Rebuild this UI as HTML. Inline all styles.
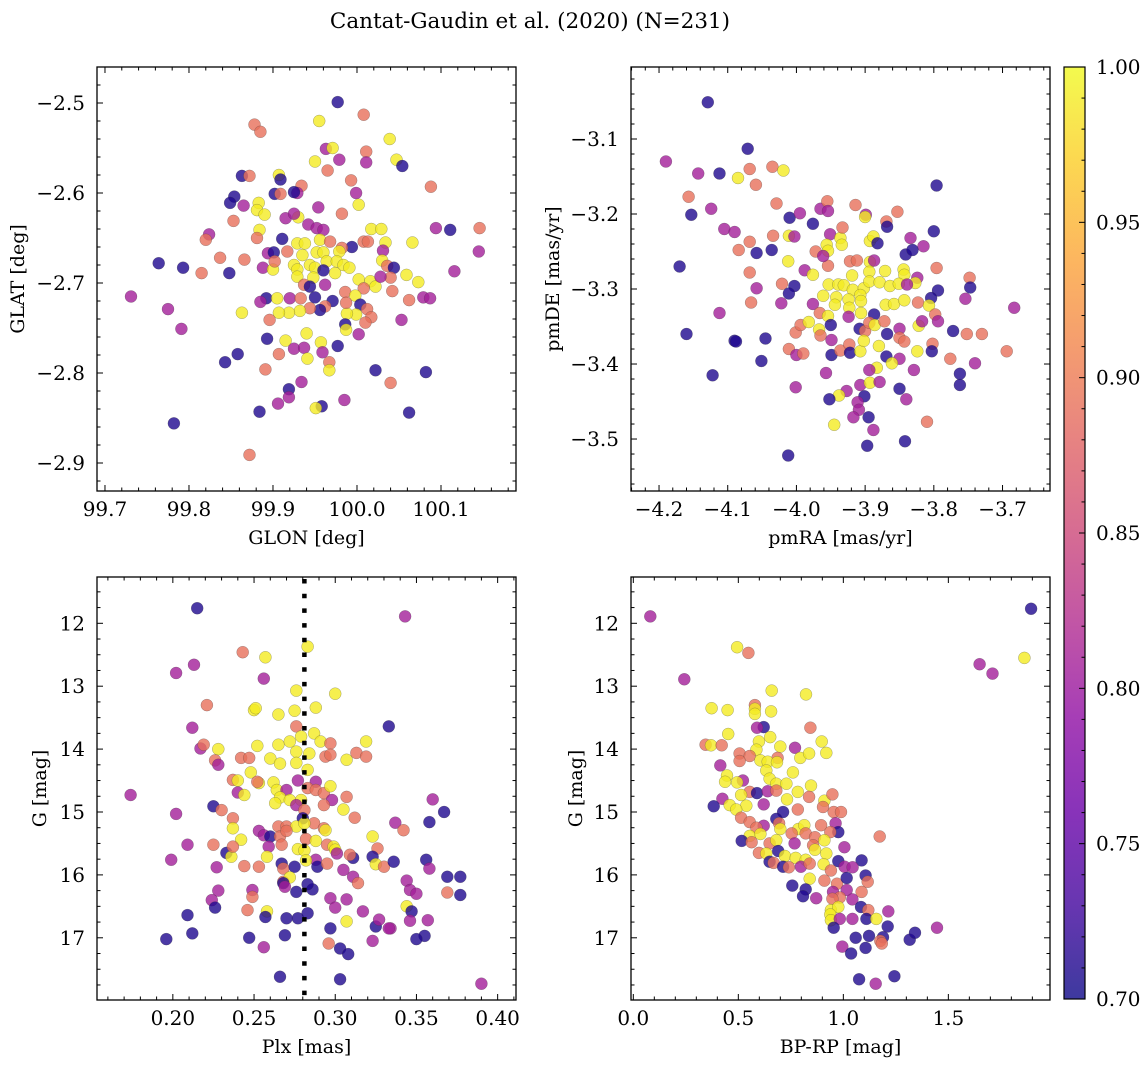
<!DOCTYPE html>
<html><head><meta charset="utf-8">
<style>
html,body{margin:0;padding:0;background:#fff;}
svg{display:block;font-family:"DejaVu Serif","Liberation Serif",serif;}
</style></head>
<body>
<svg id="fig" width="1148" height="1067" viewBox="0 0 1148 1067" xmlns="http://www.w3.org/2000/svg">
<defs>
<linearGradient id="plasma" x1="0" y1="1" x2="0" y2="0">
<stop offset="0" stop-color="#0d0887"/><stop offset="0.1" stop-color="#41049d"/><stop offset="0.2" stop-color="#6a00a8"/><stop offset="0.3" stop-color="#8f0da4"/><stop offset="0.4" stop-color="#b12a90"/><stop offset="0.5" stop-color="#cc4778"/><stop offset="0.6" stop-color="#e16462"/><stop offset="0.7" stop-color="#f2844b"/><stop offset="0.8" stop-color="#fca636"/><stop offset="0.9" stop-color="#fcce25"/><stop offset="1" stop-color="#f0f921"/>
</linearGradient>
</defs>
<text x="530" y="28" font-size="21.5" text-anchor="middle">Cantat-Gaudin et al. (2020) (N=231)</text>
</svg>
<script>
// ---------- DATA ----------
const p1_glon=[99.977,100.008,99.955,99.878,99.885,100.039,99.963,99.971,100.011,100.011,99.979,99.950,100.047,100.054,99.965,100.088,99.863,99.872,99.907,99.909,99.934,99.929,99.925,99.902,99.909,99.993,99.999,100.002,99.854,99.849,99.865,99.883,99.881,99.890,99.954,99.982,99.930,99.915,99.925,99.853,99.884,99.881,99.824,99.820,100.094,100.111,100.146,100.017,100.029,100.034,100.066,100.145,99.911,99.942,99.952,99.960,99.929,99.938,99.956,99.968,99.994,99.982,100.008,100.013,100.031,99.979,99.952,99.960,99.935,99.917,99.894,99.901,99.764,99.793,99.837,99.866,99.815,99.848,99.888,99.900,99.902,99.925,99.929,99.929,99.944,99.950,99.964,99.976,99.984,99.991,100.030,100.036,100.044,100.040,100.059,100.073,100.116,99.974,99.960,99.948,99.937,99.944,99.962,100.002,100.016,100.022,100.028,100.008,100.042,99.731,99.775,99.791,99.863,99.892,99.885,99.905,99.920,99.933,99.950,99.971,99.986,99.998,100.004,100.012,100.017,100.010,99.999,99.988,99.987,99.962,99.956,99.944,99.932,99.919,99.907,99.896,100.062,100.079,100.087,100.053,99.986,99.987,100.002,99.940,99.915,99.893,99.957,99.977,99.925,99.937,99.941,99.959,99.907,99.858,99.843,99.891,99.967,99.967,100.022,100.082,100.040,99.934,99.919,99.919,99.906,99.985,99.958,99.951,99.884,100.062,99.782,99.872];
const p1_glat=[-2.499,-2.513,-2.520,-2.524,-2.532,-2.540,-2.551,-2.550,-2.554,-2.566,-2.563,-2.565,-2.563,-2.570,-2.575,-2.593,-2.581,-2.581,-2.580,-2.585,-2.592,-2.600,-2.599,-2.601,-2.601,-2.586,-2.600,-2.613,-2.604,-2.611,-2.614,-2.611,-2.619,-2.624,-2.616,-2.623,-2.627,-2.628,-2.623,-2.631,-2.641,-2.650,-2.646,-2.652,-2.639,-2.641,-2.639,-2.640,-2.640,-2.655,-2.655,-2.665,-2.651,-2.635,-2.639,-2.641,-2.656,-2.656,-2.652,-2.654,-2.660,-2.661,-2.654,-2.654,-2.664,-2.665,-2.666,-2.666,-2.669,-2.665,-2.667,-2.666,-2.678,-2.683,-2.672,-2.674,-2.689,-2.689,-2.683,-2.685,-2.676,-2.680,-2.685,-2.693,-2.680,-2.683,-2.676,-2.676,-2.680,-2.683,-2.675,-2.681,-2.683,-2.694,-2.691,-2.699,-2.687,-2.689,-2.686,-2.694,-2.702,-2.704,-2.702,-2.696,-2.698,-2.704,-2.693,-2.706,-2.709,-2.715,-2.729,-2.751,-2.733,-2.717,-2.721,-2.717,-2.717,-2.717,-2.716,-2.720,-2.710,-2.714,-2.724,-2.729,-2.738,-2.744,-2.735,-2.734,-2.722,-2.726,-2.730,-2.728,-2.731,-2.733,-2.733,-2.741,-2.719,-2.716,-2.717,-2.741,-2.746,-2.752,-2.757,-2.756,-2.764,-2.762,-2.766,-2.770,-2.773,-2.772,-2.784,-2.777,-2.779,-2.779,-2.788,-2.796,-2.788,-2.797,-2.797,-2.799,-2.811,-2.810,-2.818,-2.827,-2.834,-2.830,-2.837,-2.839,-2.843,-2.844,-2.856,-2.891];
const p1_prob=[0.71,0.89,0.99,0.89,0.89,0.99,0.808,0.99,0.89,0.808,0.808,0.99,0.99,0.71,0.89,0.89,0.71,0.89,0.99,0.71,0.89,0.808,0.71,0.71,0.89,0.89,0.808,0.99,0.71,0.71,0.808,0.99,0.99,0.99,0.808,0.89,0.99,0.808,0.808,0.89,0.99,0.89,0.808,0.89,0.808,0.71,0.89,0.99,0.99,0.99,0.99,0.808,0.71,0.808,0.808,0.808,0.99,0.99,0.99,0.89,0.71,0.89,0.89,0.89,0.808,0.99,0.99,0.99,0.99,0.89,0.808,0.71,0.71,0.71,0.89,0.89,0.89,0.71,0.808,0.99,0.89,0.99,0.99,0.99,0.99,0.99,0.99,0.99,0.99,0.99,0.99,0.89,0.71,0.89,0.99,0.99,0.808,0.99,0.71,0.99,0.89,0.71,0.808,0.99,0.99,0.99,0.808,0.89,0.89,0.808,0.808,0.808,0.99,0.71,0.808,0.99,0.808,0.89,0.71,0.71,0.89,0.99,0.71,0.89,0.89,0.89,0.99,0.99,0.89,0.89,0.71,0.89,0.99,0.99,0.99,0.89,0.89,0.808,0.808,0.808,0.71,0.99,0.808,0.99,0.99,0.71,0.99,0.71,0.808,0.808,0.99,0.808,0.89,0.71,0.71,0.89,0.89,0.99,0.71,0.71,0.89,0.808,0.71,0.808,0.808,0.808,0.71,0.99,0.71,0.71,0.71,0.89];

const p2_pmra=[-4.129,-4.071,-4.190,-4.143,-4.112,-4.085,-4.068,-4.059,-4.035,-4.019,-3.796,-4.157,-4.153,-4.124,-4.029,-4.010,-3.995,-3.976,-3.965,-3.955,-3.954,-3.914,-3.899,-3.900,-3.869,-3.868,-3.853,-3.800,-4.105,-4.090,-4.068,-4.084,-4.058,-4.036,-4.034,-4.011,-4.003,-3.972,-3.951,-3.956,-3.954,-3.936,-3.933,-3.934,-3.893,-3.888,-3.882,-3.834,-3.815,-3.841,-3.831,-4.170,-4.068,-4.058,-4.012,-3.988,-3.976,-3.954,-3.961,-3.922,-3.912,-3.893,-3.887,-3.919,-3.894,-3.871,-3.844,-3.843,-3.824,-3.827,-3.796,-3.748,-3.747,-4.021,-4.003,-4.011,-3.953,-3.939,-3.931,-3.918,-3.902,-3.894,-3.879,-3.864,-3.851,-3.839,-3.794,-3.804,-3.961,-3.942,-3.924,-3.907,-3.944,-3.923,-3.906,-4.066,-4.022,-3.976,-3.966,-3.954,-3.924,-3.906,-3.887,-3.870,-3.858,-3.843,-3.823,-3.807,-3.798,-3.754,-3.683,-4.112,-4.160,-4.090,-4.088,-4.045,-4.001,-3.994,-3.982,-3.967,-3.965,-3.950,-3.949,-3.908,-3.900,-3.894,-3.886,-3.872,-3.868,-3.850,-3.850,-3.843,-3.822,-3.817,-3.794,-3.772,-3.752,-3.730,-4.011,-4.000,-3.990,-3.949,-3.936,-3.923,-3.922,-3.907,-3.902,-3.880,-3.869,-3.850,-3.861,-3.883,-3.894,-3.824,-3.802,-3.803,-3.776,-3.740,-3.694,-4.122,-4.051,-3.957,-4.001,-3.829,-3.762,-3.762,-3.907,-3.893,-3.879,-3.927,-3.938,-3.952,-3.901,-3.850,-3.840,-3.911,-3.909,-3.917,-3.895,-3.945,-3.888,-3.810,-3.897,-3.842,-4.012];
const p2_pmde=[-3.051,-3.113,-3.130,-3.146,-3.146,-3.152,-3.140,-3.161,-3.137,-3.142,-3.162,-3.177,-3.201,-3.193,-3.186,-3.205,-3.199,-3.213,-3.193,-3.183,-3.196,-3.188,-3.201,-3.204,-3.210,-3.217,-3.197,-3.223,-3.220,-3.224,-3.237,-3.248,-3.252,-3.248,-3.229,-3.229,-3.230,-3.250,-3.227,-3.241,-3.249,-3.232,-3.218,-3.241,-3.236,-3.230,-3.239,-3.232,-3.243,-3.254,-3.248,-3.270,-3.278,-3.299,-3.263,-3.275,-3.281,-3.269,-3.256,-3.263,-3.262,-3.264,-3.262,-3.282,-3.277,-3.276,-3.274,-3.281,-3.285,-3.292,-3.272,-3.285,-3.298,-3.293,-3.296,-3.306,-3.294,-3.294,-3.295,-3.301,-3.299,-3.290,-3.291,-3.296,-3.293,-3.294,-3.302,-3.312,-3.309,-3.311,-3.314,-3.308,-3.321,-3.325,-3.316,-3.318,-3.319,-3.320,-3.332,-3.336,-3.337,-3.332,-3.334,-3.321,-3.320,-3.315,-3.318,-3.322,-3.334,-3.313,-3.325,-3.332,-3.360,-3.369,-3.370,-3.366,-3.358,-3.348,-3.344,-3.354,-3.362,-3.348,-3.368,-3.353,-3.356,-3.345,-3.348,-3.343,-3.360,-3.353,-3.365,-3.370,-3.349,-3.343,-3.343,-3.356,-3.360,-3.360,-3.380,-3.388,-3.386,-3.388,-3.382,-3.374,-3.385,-3.383,-3.369,-3.376,-3.390,-3.393,-3.399,-3.405,-3.408,-3.383,-3.373,-3.383,-3.393,-3.399,-3.383,-3.415,-3.396,-3.412,-3.431,-3.408,-3.413,-3.428,-3.428,-3.425,-3.424,-3.436,-3.442,-3.447,-3.443,-3.433,-3.447,-3.451,-3.461,-3.471,-3.471,-3.481,-3.488,-3.477,-3.509,-3.503,-3.522];
const p2_prob=[0.71,0.71,0.808,0.808,0.71,0.99,0.89,0.89,0.89,0.99,0.71,0.89,0.71,0.808,0.89,0.71,0.808,0.71,0.808,0.89,0.808,0.89,0.808,0.99,0.89,0.71,0.89,0.71,0.808,0.808,0.89,0.89,0.71,0.71,0.89,0.99,0.808,0.89,0.808,0.99,0.99,0.99,0.89,0.99,0.99,0.99,0.71,0.808,0.808,0.71,0.71,0.71,0.89,0.808,0.99,0.808,0.99,0.89,0.808,0.89,0.89,0.99,0.808,0.99,0.99,0.99,0.99,0.99,0.808,0.99,0.89,0.89,0.71,0.89,0.71,0.71,0.99,0.99,0.99,0.99,0.99,0.99,0.99,0.99,0.99,0.808,0.71,0.71,0.99,0.99,0.99,0.99,0.99,0.99,0.99,0.89,0.808,0.808,0.89,0.99,0.808,0.99,0.71,0.99,0.99,0.99,0.89,0.99,0.89,0.808,0.808,0.808,0.71,0.71,0.71,0.71,0.89,0.89,0.99,0.99,0.89,0.71,0.808,0.71,0.89,0.89,0.99,0.89,0.71,0.808,0.89,0.89,0.99,0.808,0.808,0.71,0.89,0.89,0.89,0.808,0.89,0.71,0.89,0.89,0.71,0.99,0.99,0.99,0.71,0.808,0.99,0.99,0.808,0.99,0.89,0.71,0.89,0.808,0.89,0.71,0.71,0.808,0.808,0.808,0.71,0.71,0.808,0.99,0.808,0.808,0.99,0.71,0.71,0.71,0.808,0.808,0.808,0.808,0.71,0.99,0.808,0.89,0.71,0.71,0.71];

const p3_plx=[0.215,0.343,0.283,0.243,0.257,0.202,0.213,0.256,0.276,0.300,0.221,0.250,0.251,0.265,0.275,0.288,0.212,0.333,0.276,0.279,0.287,0.291,0.252,0.265,0.272,0.297,0.319,0.217,0.219,0.228,0.242,0.247,0.260,0.266,0.276,0.276,0.284,0.294,0.297,0.307,0.313,0.319,0.226,0.228,0.248,0.253,0.237,0.240,0.252,0.262,0.264,0.270,0.266,0.272,0.279,0.277,0.283,0.288,0.283,0.288,0.293,0.297,0.298,0.307,0.174,0.240,0.244,0.263,0.276,0.281,0.293,0.305,0.312,0.360,0.367,0.202,0.225,0.230,0.237,0.280,0.287,0.293,0.294,0.265,0.270,0.276,0.281,0.253,0.256,0.260,0.266,0.270,0.282,0.288,0.242,0.237,0.295,0.299,0.300,0.301,0.323,0.326,0.337,0.342,0.358,0.209,0.225,0.233,0.236,0.237,0.259,0.258,0.267,0.277,0.281,0.288,0.289,0.282,0.311,0.309,0.323,0.325,0.330,0.336,0.356,0.358,0.199,0.227,0.244,0.253,0.267,0.268,0.275,0.295,0.305,0.311,0.314,0.369,0.377,0.268,0.272,0.276,0.286,0.268,0.269,0.283,0.249,0.249,0.228,0.224,0.226,0.246,0.258,0.257,0.270,0.277,0.283,0.297,0.300,0.307,0.297,0.307,0.317,0.325,0.327,0.334,0.344,0.347,0.344,0.346,0.350,0.369,0.377,0.357,0.346,0.355,0.350,0.209,0.212,0.196,0.247,0.256,0.269,0.296,0.303,0.308,0.323,0.333,0.266,0.303,0.390];
const p3_gmag=[11.76,11.89,12.37,12.46,12.54,12.79,12.66,12.88,13.07,13.12,13.30,13.38,13.35,13.45,13.39,13.34,13.66,13.64,13.64,13.80,13.75,13.88,13.95,13.93,13.88,13.91,13.88,13.99,13.93,14.00,14.14,14.14,14.15,14.23,14.04,14.22,14.07,14.12,14.09,14.17,14.06,14.12,14.18,14.25,14.37,14.54,14.49,14.50,14.52,14.53,14.65,14.65,14.77,14.81,14.81,14.50,14.33,14.52,14.62,14.65,14.70,14.59,14.81,14.76,14.73,14.69,14.73,14.86,14.89,14.97,14.89,14.96,15.09,14.80,15.00,15.03,14.91,14.97,15.10,15.10,15.18,15.26,15.29,15.23,15.23,15.23,15.18,15.30,15.37,15.39,15.39,15.30,15.43,15.46,15.44,15.26,15.52,15.55,15.60,15.66,15.39,15.58,15.17,15.29,15.16,15.52,15.52,15.65,15.71,15.55,15.55,15.71,15.52,15.59,15.61,15.76,15.87,15.77,15.73,15.68,15.71,15.83,15.87,15.79,15.76,15.90,15.76,15.88,15.86,15.87,15.82,15.90,15.87,15.82,15.92,16.03,16.13,16.03,16.03,16.11,16.04,16.27,16.23,16.13,16.19,16.15,16.24,16.35,16.25,16.40,16.52,16.56,16.58,16.67,16.69,16.69,16.61,16.37,16.52,16.39,16.85,16.74,16.58,16.82,16.71,16.85,16.50,16.58,16.09,16.24,16.30,16.28,16.32,16.72,16.73,16.97,17.02,16.64,16.93,17.02,17.00,17.15,16.96,17.09,17.17,17.26,17.05,16.85,17.62,17.66,17.73];
const p3_prob=[0.71,0.808,0.99,0.89,0.99,0.808,0.808,0.808,0.99,0.99,0.89,0.99,0.99,0.99,0.99,0.99,0.808,0.71,0.89,0.99,0.99,0.99,0.99,0.99,0.99,0.89,0.99,0.808,0.89,0.99,0.89,0.89,0.99,0.99,0.99,0.99,0.99,0.89,0.89,0.99,0.89,0.89,0.89,0.808,0.99,0.99,0.89,0.99,0.89,0.99,0.99,0.808,0.99,0.99,0.99,0.808,0.99,0.808,0.89,0.89,0.89,0.99,0.808,0.89,0.808,0.808,0.99,0.99,0.808,0.89,0.89,0.99,0.89,0.808,0.71,0.808,0.71,0.89,0.89,0.71,0.89,0.89,0.99,0.89,0.89,0.99,0.99,0.808,0.808,0.71,0.89,0.89,0.89,0.99,0.99,0.99,0.89,0.99,0.99,0.808,0.99,0.89,0.808,0.89,0.71,0.808,0.89,0.71,0.99,0.89,0.808,0.99,0.89,0.99,0.99,0.808,0.71,0.99,0.71,0.89,0.71,0.99,0.89,0.71,0.71,0.808,0.808,0.808,0.89,0.89,0.71,0.89,0.71,0.89,0.808,0.808,0.89,0.71,0.71,0.89,0.99,0.71,0.71,0.71,0.808,0.71,0.808,0.89,0.808,0.808,0.71,0.89,0.99,0.71,0.71,0.71,0.71,0.808,0.808,0.808,0.71,0.99,0.808,0.71,0.808,0.808,0.99,0.71,0.808,0.808,0.808,0.89,0.71,0.808,0.808,0.71,0.71,0.71,0.71,0.71,0.71,0.808,0.71,0.89,0.71,0.71,0.808,0.808,0.71,0.71,0.808];

const p4_bprp=[0.081,1.894,0.494,0.548,1.862,1.649,1.710,0.243,0.659,0.822,0.373,0.449,0.579,0.579,0.579,0.656,0.621,0.589,0.843,0.452,0.652,0.598,0.344,0.370,0.421,0.700,0.770,0.897,0.919,0.586,0.506,0.554,0.605,0.687,0.795,0.837,0.506,0.414,0.640,0.684,0.633,0.760,0.446,0.437,0.522,0.494,0.649,0.681,0.729,0.846,0.554,0.589,0.640,0.681,0.783,0.837,0.910,0.948,0.424,0.513,0.732,0.621,0.383,0.459,0.538,0.490,0.903,0.783,0.713,0.954,0.989,0.513,0.554,0.681,0.694,0.786,0.814,0.894,0.963,0.621,0.586,0.700,0.821,0.976,1.173,0.554,0.605,0.754,0.865,0.938,0.516,0.563,0.649,0.681,0.768,0.910,1.005,0.856,0.598,0.633,0.690,0.722,0.773,0.821,0.865,0.919,0.976,1.087,0.649,0.668,0.713,0.741,0.798,0.840,0.906,0.941,1.006,1.044,0.757,0.840,0.821,0.808,0.871,0.910,0.970,1.016,1.106,1.116,0.951,1.016,1.087,0.983,0.948,1.043,1.084,0.941,0.976,0.938,0.941,0.983,1.043,1.119,1.110,1.157,1.214,1.211,0.954,1.059,1.122,1.189,1.176,1.183,1.106,0.995,1.037,1.316,1.341,1.446,1.075,1.243,1.154];
const p4_gmag=[11.89,11.77,12.38,12.47,12.55,12.65,12.80,12.89,13.07,13.13,13.35,13.38,13.30,13.36,13.44,13.40,13.65,13.66,13.66,13.76,13.81,13.88,13.93,13.94,13.94,13.96,13.98,13.88,14.06,14.01,14.07,14.11,14.18,14.14,14.14,14.07,14.19,14.26,14.20,14.21,14.34,14.37,14.42,14.52,14.50,14.53,14.47,14.55,14.55,14.58,14.68,14.70,14.67,14.66,14.68,14.76,14.82,14.72,14.79,14.73,14.80,14.88,14.91,14.89,14.90,14.96,14.92,14.96,15.00,15.00,15.00,15.09,15.16,15.11,15.18,15.27,15.21,15.21,15.18,15.22,15.25,15.27,15.34,15.32,15.39,15.38,15.35,15.34,15.40,15.32,15.46,15.48,15.50,15.45,15.50,15.45,15.56,15.53,15.65,15.66,15.62,15.70,15.73,15.76,15.60,15.66,15.78,15.77,15.79,15.81,15.87,15.88,15.87,15.82,15.83,15.93,15.87,15.88,16.17,16.06,16.23,16.34,16.37,16.09,16.14,16.05,16.01,16.11,16.27,16.24,16.27,16.36,16.38,16.39,16.51,16.56,16.51,16.63,16.72,16.70,16.70,16.56,16.70,16.70,16.58,16.82,16.84,17.00,16.97,16.99,17.05,17.09,17.16,17.14,17.25,17.03,16.92,16.84,17.66,17.61,17.73];
const p4_prob=[0.808,0.71,0.99,0.89,0.99,0.808,0.808,0.808,0.99,0.99,0.99,0.99,0.89,0.99,0.99,0.99,0.71,0.808,0.89,0.99,0.99,0.99,0.89,0.99,0.89,0.99,0.808,0.99,0.99,0.99,0.89,0.89,0.99,0.89,0.99,0.99,0.89,0.808,0.99,0.99,0.99,0.99,0.99,0.99,0.808,0.99,0.99,0.99,0.99,0.99,0.89,0.71,0.808,0.89,0.99,0.89,0.99,0.89,0.808,0.99,0.99,0.808,0.71,0.99,0.99,0.99,0.89,0.89,0.71,0.89,0.89,0.89,0.89,0.71,0.89,0.99,0.99,0.89,0.808,0.808,0.89,0.99,0.89,0.71,0.89,0.99,0.99,0.89,0.89,0.89,0.71,0.89,0.89,0.99,0.808,0.99,0.808,0.89,0.89,0.99,0.71,0.99,0.99,0.99,0.99,0.99,0.71,0.71,0.71,0.89,0.71,0.89,0.808,0.89,0.99,0.89,0.808,0.808,0.71,0.99,0.71,0.71,0.808,0.89,0.89,0.71,0.71,0.89,0.808,0.808,0.89,0.89,0.89,0.808,0.71,0.99,0.99,0.99,0.99,0.808,0.808,0.89,0.71,0.99,0.808,0.71,0.71,0.71,0.71,0.71,0.89,0.89,0.71,0.808,0.71,0.71,0.71,0.808,0.71,0.71,0.808];

const plx_ref=[0.281];
const cbar_ticks=[0.70,0.75,0.80,0.85,0.90,0.95,1.00];

// ---------- RENDER ----------
const NS="http://www.w3.org/2000/svg";
const svg=document.getElementById('fig');
function mk(tag,attrs,parent){const e=document.createElementNS(NS,tag);for(const k in attrs)e.setAttribute(k,attrs[k]);(parent||svg).appendChild(e);return e;}
const stops=[[0,13,8,135],[0.1,65,4,157],[0.2,106,0,168],[0.3,143,13,164],[0.4,177,42,144],[0.5,204,71,120],[0.6,225,100,98],[0.7,242,132,75],[0.8,252,166,54],[0.9,252,206,37],[1,240,249,33]];
function plasma(t){t=Math.max(0,Math.min(1,t));for(let i=1;i<stops.length;i++){if(t<=stops[i][0]){const a=stops[i-1],b=stops[i],f=(t-a[0])/(b[0]-a[0]);return 'rgb('+[1,2,3].map(j=>Math.round(a[j]+(b[j]-a[j])*f)).join(',')+')';}}return 'rgb(240,249,33)';}
const cmin=0.70,cmax=1.00;
const TF=20, LF=19;
function fmtMinus(s){return s.replace('-','\u2212');}

function panel(o){
  const g=mk('g',{});
  
  
  const X=v=>o.x0+(v-o.xd[0])/(o.xd[1]-o.xd[0])*(o.x1-o.x0);
  const Y=v=>o.y0+(v-o.yd[0])/(o.yd[1]-o.yd[0])*(o.y1-o.y0);
  const pts=mk('g',{},g);
  
  
  const n=Math.min(o.xs.length,o.ys.length,o.cs.length);
  for(let i=0;i<n;i++){
    const c=mk('circle',{cx:X(o.xs[i]).toFixed(1),cy:Y(o.ys[i]).toFixed(1),r:6,fill:plasma((o.cs[i]-cmin)/(cmax-cmin)),'fill-opacity':0.8,stroke:'rgba(60,60,60,0.45)','stroke-width':0.5},pts);
    
    
  }
  if(o.extra)o.extra(g,X,Y);
  const fr=mk('rect',{x:o.x0,y:o.y0,width:o.x1-o.x0,height:o.y1-o.y0,fill:'none',stroke:'#000','stroke-width':1.3},g);
  
  
  const tg=mk('g',{stroke:'#000','stroke-width':1},g);
  
  
  const eps=1e-9;
  const xmn=Math.min(...o.xd),xmx=Math.max(...o.xd),ymn=Math.min(...o.yd),ymx=Math.max(...o.yd);
  for(let v=Math.ceil(xmn/o.xminor-eps)*o.xminor;v<=xmx+eps;v+=o.xminor){
    const maj=Math.abs(v/o.xmajor-Math.round(v/o.xmajor))<1e-6;const L=maj?6:3.5;const px=X(v);
    mk('line',{x1:px,y1:o.y1,x2:px,y2:o.y1-L},tg);mk('line',{x1:px,y1:o.y0,x2:px,y2:o.y0+L},tg);
  }
  for(let v=Math.ceil(ymn/o.yminor-eps)*o.yminor;v<=ymx+eps;v+=o.yminor){
    const maj=Math.abs(v/o.ymajor-Math.round(v/o.ymajor))<1e-6;const L=maj?6:3.5;const py=Y(v);
    mk('line',{x1:o.x0,y1:py,x2:o.x0+L,y2:py},tg);mk('line',{x1:o.x1,y1:py,x2:o.x1-L,y2:py},tg);
  }
  o.xticks.forEach(v=>{const t=mk('text',{x:X(v),y:o.y1+25,'font-size':TF,'text-anchor':'middle'},g);t.textContent=fmtMinus(v.toFixed(o.xdec));
    
    });
  o.yticks.forEach(v=>{const t=mk('text',{x:o.x0-12,y:Y(v)+7,'font-size':TF,'text-anchor':'end'},g);t.textContent=fmtMinus(v.toFixed(o.ydec));
    
    });
  const xl=mk('text',{x:(o.x0+o.x1)/2,y:o.y1+53,'font-size':LF,'text-anchor':'middle'},g);xl.textContent=o.xlabel;
  
  
  const yc=(o.y0+o.y1)/2;
  const yl=mk('text',{x:o.ylx,y:yc,'font-size':LF,'text-anchor':'middle',transform:'rotate(-90 '+o.ylx+' '+yc+')'},g);yl.textContent=o.ylabel;
  
  
}

panel({name:'panel-glon-glat',x0:97,x1:516,y0:67,y1:491,xd:[99.6905,100.1893],yd:[-2.46,-2.9311],xs:p1_glon,ys:p1_glat,cs:p1_prob,
  xminor:0.02,xmajor:0.1,yminor:0.02,ymajor:0.1,xticks:[99.7,99.8,99.9,100.0,100.1],xdec:1,yticks:[-2.5,-2.6,-2.7,-2.8,-2.9],ydec:1,
  xlabel:'GLON [deg]',ylabel:'GLAT [deg]',ylx:24});
panel({name:'panel-pmra-pmde',x0:631,x1:1050,y0:67,y1:491,xd:[-4.2408,-3.6309],yd:[-3.004,-3.5693],xs:p2_pmra,ys:p2_pmde,cs:p2_prob,
  xminor:0.02,xmajor:0.1,yminor:0.02,ymajor:0.1,xticks:[-4.2,-4.1,-4.0,-3.9,-3.8,-3.7],xdec:1,yticks:[-3.1,-3.2,-3.3,-3.4,-3.5],ydec:1,
  xlabel:'pmRA [mas/yr]',ylabel:'pmDE [mas/yr]',ylx:559});
panel({name:'panel-plx-g',x0:97,x1:516,y0:577,y1:1000,xd:[0.1533,0.4113],yd:[11.264,17.989],xs:p3_plx,ys:p3_gmag,cs:p3_prob,
  xminor:0.01,xmajor:0.05,yminor:0.25,ymajor:1,xticks:[0.20,0.25,0.30,0.35,0.40],xdec:2,yticks:[12,13,14,15,16,17],ydec:0,
  xlabel:'Plx [mas]',ylabel:'G [mag]',ylx:46,
  extra:(g,X,Y)=>{plx_ref.forEach(v=>{const l=mk('line',{x1:X(v),x2:X(v),y1:579,y2:1000,stroke:'#000','stroke-width':4.5,'stroke-dasharray':'4.5 10.2'},g);
    
    });}});
panel({name:'panel-bprp-g',x0:631,x1:1050,y0:577,y1:1000,xd:[-0.011,1.984],yd:[11.264,17.989],xs:p4_bprp,ys:p4_gmag,cs:p4_prob,
  xminor:0.1,xmajor:0.5,yminor:0.25,ymajor:1,xticks:[0.0,0.5,1.0,1.5],xdec:1,yticks:[12,13,14,15,16,17],ydec:0,
  xlabel:'BP-RP [mag]',ylabel:'G [mag]',ylx:582});

const cb=mk('g',{});


const cbx0=1064,cbx1=1085,cby0=67,cby1=999;
mk('rect',{x:cbx0,y:cby0,width:cbx1-cbx0,height:cby1-cby0,fill:'url(#plasma)','fill-opacity':0.8},cb);
mk('rect',{x:cbx0,y:cby0,width:cbx1-cbx0,height:cby1-cby0,fill:'none',stroke:'#000','stroke-width':1.2},cb);
const CY=v=>cby1-(v-cmin)/(cmax-cmin)*(cby1-cby0);
for(let k=0;k<=30;k++){const v=cmin+k*0.01;const maj=k%5===0;const py=CY(v);
  mk('line',{x1:cbx1,x2:cbx1-(maj?6:3.5),y1:py,y2:py,stroke:'#000','stroke-width':1},cb);}
cbar_ticks.forEach(v=>{const t=mk('text',{x:1096,y:CY(v)+7,'font-size':TF},cb);t.textContent=v.toFixed(2);
  
  });
</script>
</body></html>
